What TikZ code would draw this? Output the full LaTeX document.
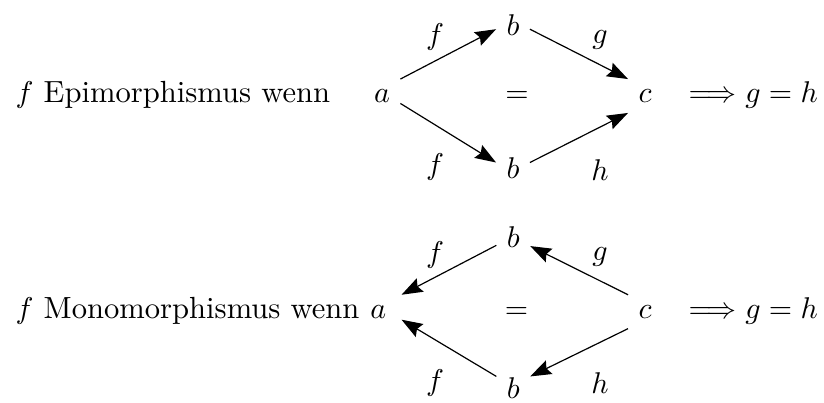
\documentclass[tikz,border=0pt]{standalone}
\usetikzlibrary{arrows.meta}
\begin{document}
\begin{tikzpicture}[x=1pt, y=1pt,
  obj/.style={inner sep=3.3pt},
  lbl/.style={inner sep=0pt},
  txt/.style={inner sep=0pt, anchor=base west, font=\fontsize{10.2}{12}\selectfont},
  arr/.style={-{Stealth[length=7pt, width=5pt, inset=1pt]}, line width=0.4pt}
]
  \useasboundingbox (0,0) rectangle (274.67,134.33);

  % Epimorphismus
  \node[txt] (epi) at (5,100.2) {$f$ Epimorphismus wenn};
  \node[obj] (a1) at (127.33,102.33) {$a$};
  \node[obj] (b1) at (171,126) {$b$};
  \node[obj] (b2) at (171,78.33) {$b$};
  \node[obj] (c1) at (215,102.33) {$c$};
  \node[lbl, anchor=base] (eq1) at (172.33,100.2) {$=$};
  \node[txt, font=] (impl1) at (229.33,100.2) {$\Longrightarrow g = h$};

  \node[lbl] (f1) at (145,122.1) {$f$};
  \node[lbl] (g1) at (200,121) {$g$};
  \node[lbl] (f2) at (145,78.8) {$f$};
  \node[lbl] (h1) at (200,77.67) {$h$};

  \draw[arr] (a1.north east) -- (b1.194);
  \draw[arr] (b1.-14) -- (c1.north west);
  \draw[arr] (a1.-22) -- (b2.162);
  \draw[arr] (b2.18) -- (c1.south west);

  % Monomorphismus
  \node[txt] (mono) at (5,28.3) {$f$ Monomorphismus wenn};
  \node[obj, inner xsep=4.9pt] (a2) at (126.1,30.43) {$a$};
  \node[obj] (b3) at (171.1,55.43) {$b$};
  \node[obj] (b4) at (171.1,4.9) {$b$};
  \node[obj] (c2) at (215,30.43) {$c$};
  \node[lbl, anchor=base] (eq2) at (172.2,28.3) {$=$};
  \node[txt, font=] (impl2) at (229.33,28.3) {$\Longrightarrow g = h$};

  \node[lbl] (f3) at (145,49.33) {$f$};
  \node[lbl] (g2) at (200,48.8) {$g$};
  \node[lbl] (f4) at (145,6.57) {$f$};
  \node[lbl] (h2) at (200,6.57) {$h$};

  \draw[arr] (b3.207) -- (a2.north east);
  \draw[arr] (c2.north west) -- (b3.-29);
  \draw[arr] (b4.145) -- (a2.-19);
  \draw[arr] (c2.south west) -- (b4.35);
\end{tikzpicture}
\end{document}
